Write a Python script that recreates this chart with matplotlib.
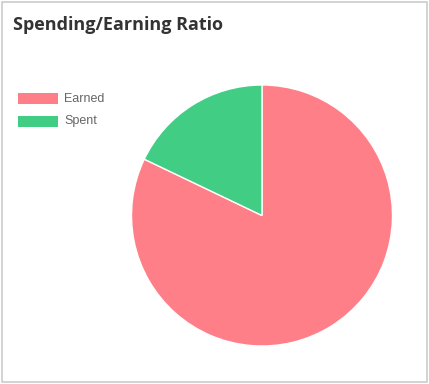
import matplotlib
matplotlib.use("Agg")
import matplotlib.pyplot as plt
from matplotlib.patches import Rectangle

labels = ["Earned", "Spent"]
values = [82.1, 17.9]
colors = ["#ff7f89", "#42cd84"]

W, H = 429, 384
fig = plt.figure(figsize=(W / 100, H / 100), dpi=100)
ax = fig.add_axes([0, 0, 1, 1])
ax.set_xlim(0, W)
ax.set_ylim(0, H)
ax.axis("off")

# card frame
ax.add_patch(Rectangle((1.5, H - 381.5), 425, 379.5, fill=False,
                       ec="#cccccc", lw=1.2))

ax.text(13, H - 25, "Spending/Earning Ratio", fontsize=13, fontweight="bold",
        family="Open Sans", color="#333333", va="center", ha="left")

ax.pie(values, colors=colors, startangle=90, counterclock=False,
       center=(262, H - 215.5), radius=130.5,
       wedgeprops=dict(edgecolor="white", linewidth=1))
ax.set_xlim(0, W)
ax.set_ylim(0, H)
ax.set_aspect("equal")

# legend
for i, (lab, c) in enumerate(zip(labels, colors)):
    y = 98.5 + i * 22.5
    ax.add_patch(Rectangle((18, H - y - 5.5), 40, 11, fc=c, ec="none"))
    ax.text(64, H - y, lab, fontsize=9, family="Liberation Sans",
            color="#666666", va="center", ha="left")

fig.savefig("out.png", dpi=100, facecolor="white")
